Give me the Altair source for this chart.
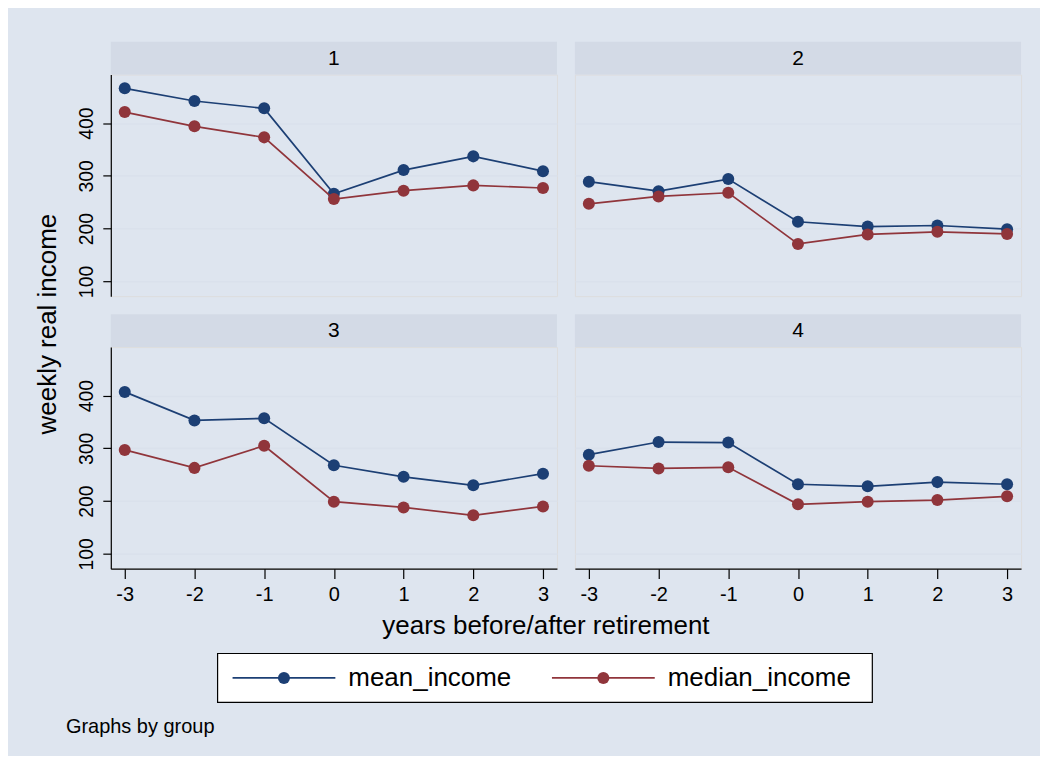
import altair as alt
import pandas as pd

# ---- data ----
years = [-3, -2, -1, 0, 1, 2, 3]
groups = ["1", "2", "3", "4"]
series = ["mean_income", "median_income"]

mean_g1 = [466, 442, 428, 266, 311, 337, 309]
median_g1 = [421, 394, 373, 256, 272, 282, 277]
mean_g2 = [289, 271, 294, 213, 204, 206, 199]
median_g2 = [247, 261, 268, 171, 189, 194, 190]
mean_g3 = [407, 353, 357, 268, 246, 230, 252]
median_g3 = [297, 263, 305, 199, 188, 173, 190]
mean_g4 = [288, 312, 311, 232, 228, 236, 232]
median_g4 = [267, 262, 264, 194, 199, 202, 209]

y_ticks = [100, 200, 300, 400]
y_title = "weekly real income"
x_title = "years before/after retirement"
note_text = "Graphs by group"

# ---- build long table ----
rows = []
for g, mv, md in zip(groups, [mean_g1, mean_g2, mean_g3, mean_g4],
                     [median_g1, median_g2, median_g3, median_g4]):
    for yr, a, b in zip(years, mv, md):
        rows.append({"group": g, "year": yr, "series": series[0], "value": a})
        rows.append({"group": g, "year": yr, "series": series[1], "value": b})
df = pd.DataFrame(rows)

# ---- style ----
FONT = "Liberation Sans"
BG = "#dee5ef"
STRIP = "#d3dae6"
GRID = "#dae1ec"
COLORS = ["#1c3f74", "#90353b"]
W, H = 447, 222
XDOM = [-3.2, 3.2]
YDOM = [72, 492]
PT = 145

color = alt.Color("series:N", scale=alt.Scale(domain=series, range=COLORS), legend=None)
one = pd.DataFrame({"k": [0]})


def panel(g, left, bottom):
    d = df[df.group == g]
    if bottom:
        xaxis = alt.Axis(values=years, labelExpr="'' + datum.value", labelFontSize=20,
                         labelFont=FONT, labelColor="black", labelFlush=False,
                         tickSize=10, tickColor="black", tickWidth=1.2,
                         domainColor="black", domainWidth=1.2, labelPadding=6,
                         grid=False, title=None)
    else:
        xaxis = None
    if left:
        yaxis = alt.Axis(values=y_ticks, labelAngle=270, labelAlign="center",
                         labelBaseline="alphabetic", labelFontSize=19.5, labelFont=FONT,
                         labelColor="black", labelPadding=10, tickSize=8,
                         tickColor="black", tickWidth=1.2, domainColor="black",
                         domainWidth=1.2, grid=True, gridColor=GRID, gridWidth=1.6,
                         title=None, labelOverlap=False, labelFlush=False)
    else:
        yaxis = alt.Axis(values=y_ticks, labels=False, ticks=False, domain=False,
                         grid=True, gridColor=GRID, gridWidth=1.6, title=None)
    x = alt.X("year:Q", scale=alt.Scale(domain=XDOM, nice=False, zero=False), axis=xaxis)
    y = alt.Y("value:Q", scale=alt.Scale(domain=YDOM, nice=False, zero=False), axis=yaxis)

    layers = []
    for s in series:
        base = alt.Chart(d[d.series == s]).encode(x=x, y=y, color=color)
        layers.append(base.mark_line(strokeWidth=1.7))
        layers.append(base.mark_point(filled=True, size=PT, opacity=1))

    strip_df = pd.DataFrame({"group": [g]})
    layers.append(alt.Chart(strip_df).mark_rect(color=STRIP).encode(
        x=alt.value(0), x2=alt.value(W), y=alt.value(-33), y2=alt.value(0)))
    layers.append(alt.Chart(strip_df).mark_text(font=FONT, fontSize=21, color="black",
                                                baseline="middle").encode(
        text="group:N", x=alt.value(W / 2), y=alt.value(-16)))
    return layers


# panel 1 (top-left)
l1 = panel("1", True, False)
l1.append(alt.Chart(pd.DataFrame({"t": [y_title]})).mark_text(
    font=FONT, fontSize=26, color="black", angle=270, align="center",
    baseline="alphabetic").encode(text="t:N", x=alt.value(-55), y=alt.value(250)))
l1.append(alt.Chart(one).mark_rect(color=BG).encode(
    x=alt.value(-102), x2=alt.value(-101), y=alt.value(-65), y2=alt.value(-64)))
p1 = alt.layer(*l1).properties(width=W, height=H)

# panel 2 (top-right)
p2 = alt.layer(*panel("2", False, False)).properties(width=W, height=H)

# panel 3 (bottom-left) with x title, legend and note
l3 = panel("3", True, True)
l3.append(alt.Chart(pd.DataFrame({"t": [x_title]})).mark_text(
    font=FONT, fontSize=26, color="black", align="center",
    baseline="alphabetic").encode(text="t:N", x=alt.value(436), y=alt.value(287)))
l3.append(alt.Chart(pd.DataFrame({"t": [note_text]})).mark_text(
    font=FONT, fontSize=20, color="black", align="left",
    baseline="alphabetic").encode(text="t:N", x=alt.value(-45), y=alt.value(387)))
l3.append(alt.Chart(one).mark_rect(fill="white", stroke="black", strokeWidth=1.2).encode(
    x=alt.value(107), x2=alt.value(763), y=alt.value(307), y2=alt.value(356)))
leg_df = pd.DataFrame({"series": series})
for i, s in enumerate(series):
    off = i * 320
    ls = alt.Chart(leg_df[leg_df.series == s])
    l3.append(ls.mark_rule(strokeWidth=1.8).encode(
        x=alt.value(122 + off), x2=alt.value(225 + off), y=alt.value(331.5), color=color))
    l3.append(ls.mark_point(filled=True, size=PT, opacity=1).encode(
        x=alt.value(173.5 + off), y=alt.value(331.5), color=color))
    l3.append(ls.mark_text(align="left", baseline="middle", font=FONT, fontSize=26,
                           color="black").encode(
        x=alt.value(238 + off), y=alt.value(332), text="series:N"))
p3 = alt.layer(*l3).properties(width=W, height=H)

# panel 4 (bottom-right)
l4 = panel("4", False, True)
l4.append(alt.Chart(one).mark_rect(color=BG).encode(
    x=alt.value(464), x2=alt.value(465), y=alt.value(407), y2=alt.value(408)))
p4 = alt.layer(*l4).properties(width=W, height=H)

chart = alt.concat(p1, p2, p3, p4, columns=2, spacing={"row": 51, "column": 18},
                   bounds="flush").properties(
    background=BG, padding={"left": 0, "top": 0, "right": 0, "bottom": 0}
).configure_view(stroke=None, fill="white").configure(font=FONT)

chart.save("out.html", embed_options={"renderer": "svg", "actions": False})
